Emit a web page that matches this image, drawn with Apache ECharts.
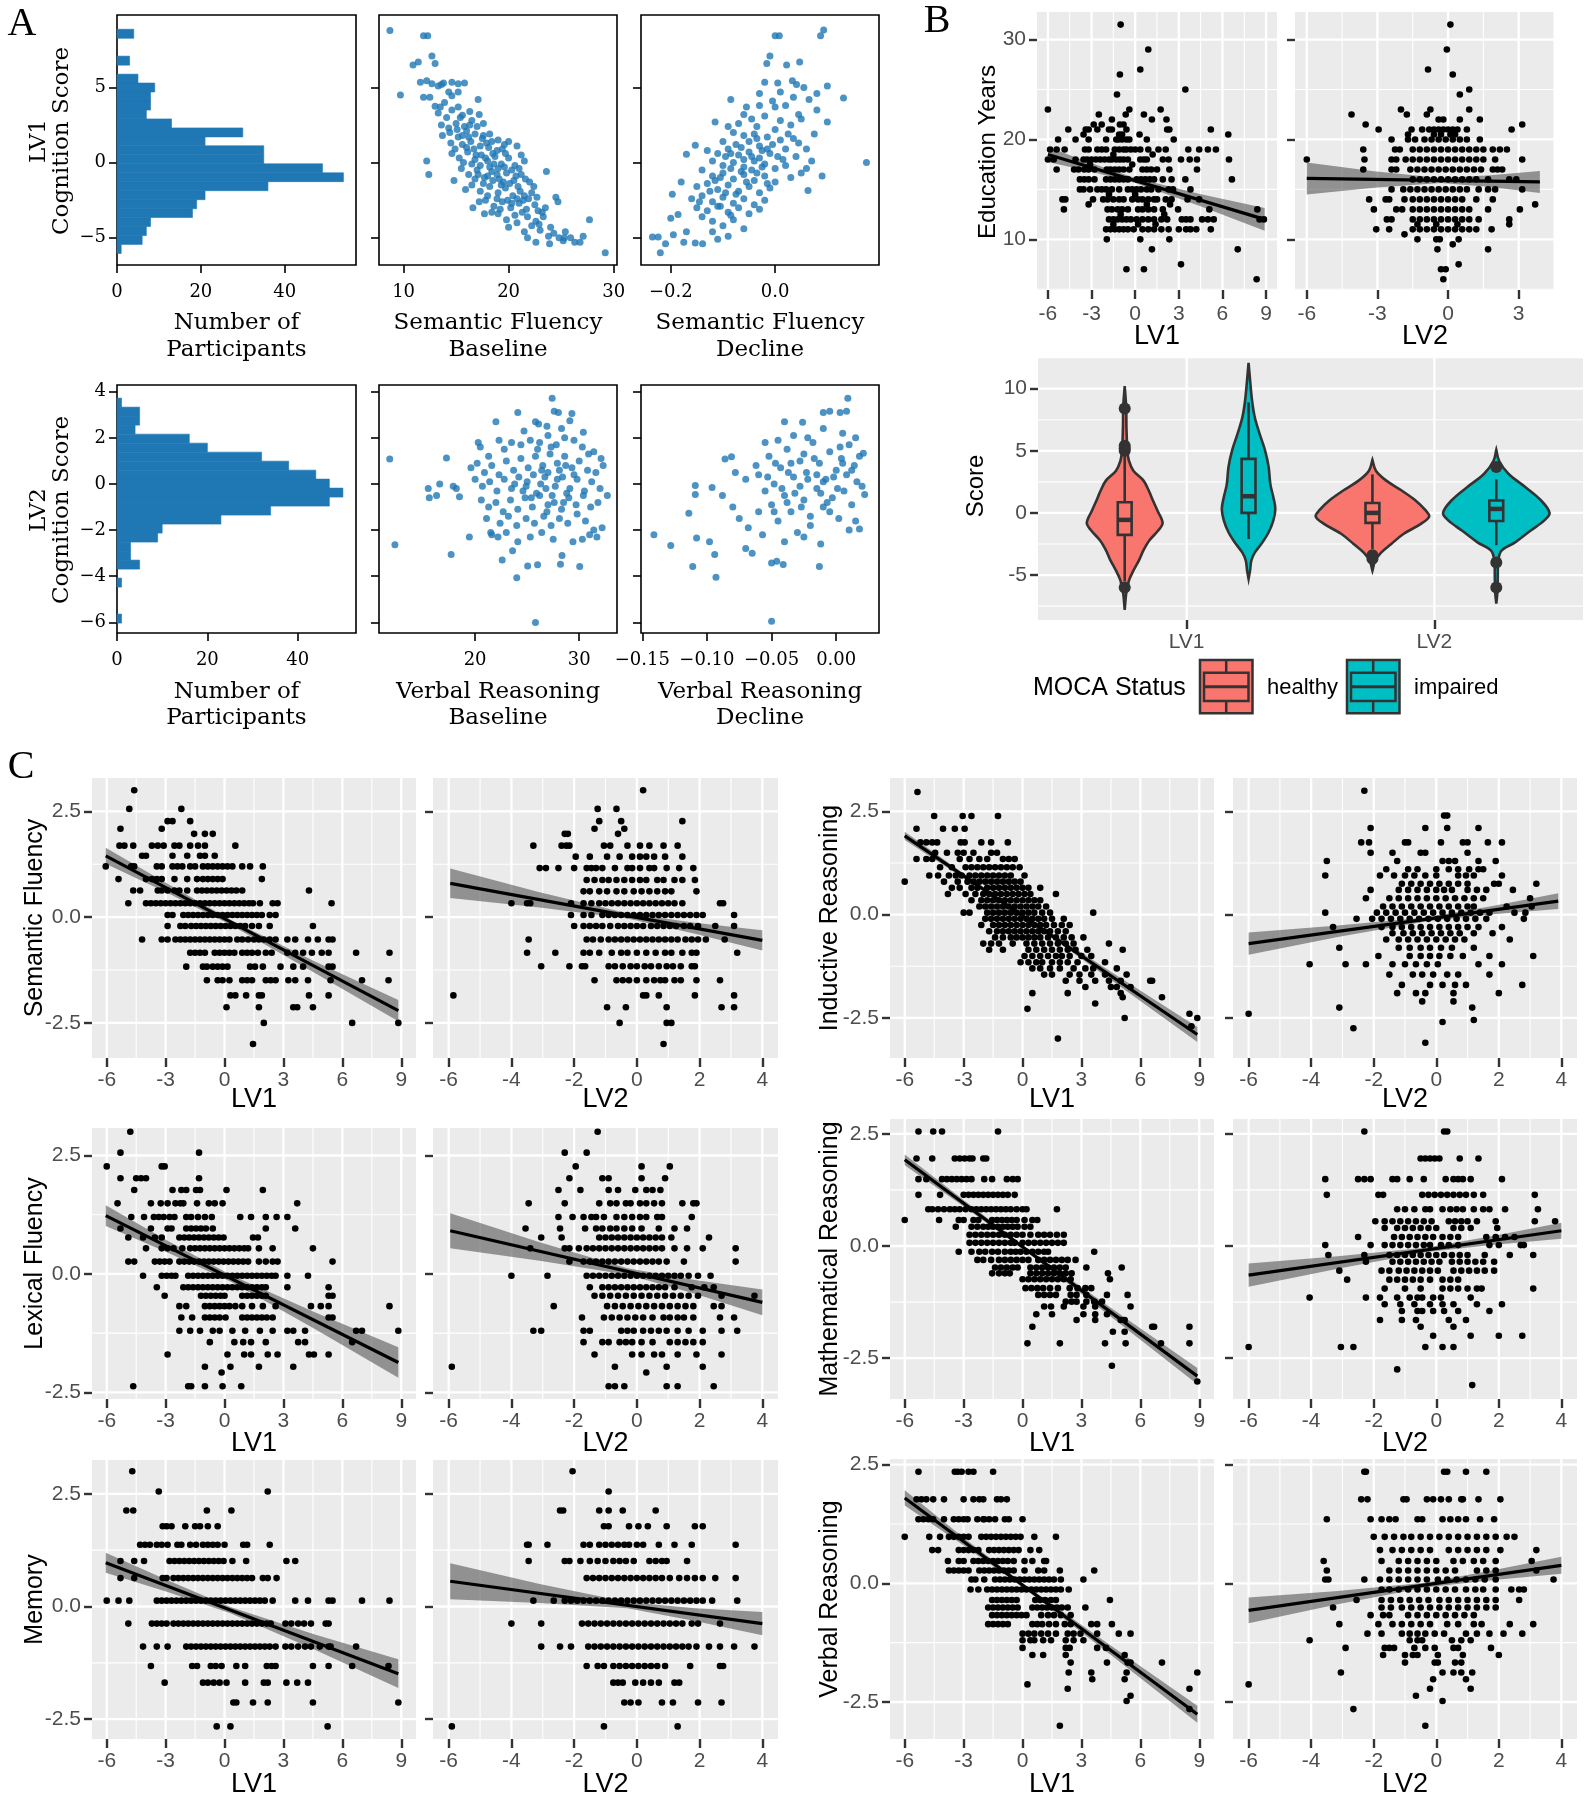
<!DOCTYPE html>
<html><head><meta charset="utf-8">
<script src="https://cdn.jsdelivr.net/npm/echarts@6/dist/echarts.min.js"></script>
<style>html,body{margin:0;padding:0;background:#fff}#c{width:1590px;height:1800px}</style>
</head><body><div id="c"></div>
<script>
// ================= DATA =================
// Panel A: histograms (bin edges, counts)
const histLV1Edges = [-6.05,-5.45,-4.86,-4.26,-3.66,-3.07,-2.47,-1.87,-1.27,-0.68,-0.08,0.52,1.12,1.71,2.31,2.91,3.50,4.10,4.70,5.30,5.89,6.49,7.09,7.68,8.28,8.88];
const histLV1Counts = [1,6,7,8,18,19,21,36,54,49,35,35,21,30,13,7,8,8,9,5,0,3,0,0,4];
const histLV2Edges = [-6.03,-5.64,-5.25,-4.86,-4.47,-4.08,-3.69,-3.30,-2.91,-2.52,-2.13,-1.74,-1.35,-0.96,-0.57,-0.18,0.21,0.60,0.99,1.38,1.77,2.16,2.55,2.94,3.33,3.72];
const histLV2Counts = [1,0,0,0,1,0,5,3,3,9,10,23,34,47,50,47,44,38,32,20,16,4,5,5,1];

// Panel A scatter: [x, score]
const sfBaseline = [[8.7,8.8],[11.9,8.45],[12.3,8.45],[12.7,7.1],[10.9,6.5],[11.4,6.7],[13.0,6.6],[9.7,4.5],[11.6,5.35],[12.2,5.45],[12.7,5.25],[13.3,5.1],[13.8,5.3],[14.6,5.35],[15.2,5.25],[15.8,5.3],[11.9,4.35],[12.5,4.35],[14.6,4.45],[15.2,4.7],[17.1,4.2],[13.0,3.75],[13.5,3.7],[14.6,3.5],[15.2,3.7],[15.6,3.15],[14.1,3.0],[15.4,3.0],[16.3,3.4],[17.2,3.2],[13.6,2.5],[14.3,2.3],[15.0,2.6],[15.8,2.4],[16.5,2.8],[17.6,2.6],[13.7,1.8],[14.4,2.0],[15.2,1.7],[16.0,2.1],[16.8,1.9],[17.5,1.6],[18.2,1.9],[19.0,1.5],[19.6,1.2],[14.5,1.3],[15.6,1.2],[16.4,1.4],[17.3,1.1],[18.1,1.0],[18.9,0.8],[20.0,1.4],[20.8,1.1],[21.2,0.5],[12.2,0.1],[12.4,-0.8],[14.6,0.6],[15.3,0.3],[16.1,0.7],[16.8,0.2],[17.4,0.5],[18.0,0.1],[18.7,0.4],[19.3,-0.1],[20.0,0.3],[20.6,-0.2],[21.5,0.1],[15.5,-0.4],[16.2,-0.8],[17.0,-0.5],[17.7,-1.0],[18.4,-0.6],[19.1,-1.1],[19.8,-0.7],[20.5,-1.2],[21.2,-0.8],[22.0,-1.3],[23.6,-0.6],[14.8,-1.2],[16.5,-1.5],[17.3,-1.9],[18.2,-1.6],[19.0,-2.0],[19.7,-1.7],[20.4,-2.2],[21.1,-1.9],[21.9,-2.4],[22.4,-1.6],[17.8,-2.5],[18.6,-2.9],[19.4,-2.6],[20.2,-3.0],[21.0,-2.7],[21.7,-3.1],[22.5,-2.8],[23.2,-3.3],[24.5,-2.3],[24.7,-2.6],[16.6,-3.0],[17.7,-3.4],[19.0,-3.4],[20.6,-3.5],[21.8,-3.6],[22.6,-3.9],[23.3,-3.6],[20.0,-4.3],[21.5,-4.6],[22.2,-4.2],[23.0,-4.5],[23.8,-4.9],[24.3,-4.7],[22.6,-5.3],[25.4,-4.6],[25.9,-5.0],[26.3,-5.3],[26.8,-5.3],[27.1,-4.9],[27.7,-3.8],[25.2,-5.2],[29.2,-6.0],[16.0,1.0],[16.7,0.9],[17.9,1.3],[18.5,0.6],[19.4,0.9],[15.7,0.0],[16.5,-0.1],[17.3,-0.2],[18.2,-0.3],[19.0,-0.4],[19.7,0.6],[20.3,-0.5],[21.0,-0.4],[16.8,-1.1],[17.6,-1.4],[18.5,-1.2],[19.3,-1.5],[20.1,-1.4],[20.9,-1.6],[21.6,-1.1],[18.0,-2.2],[18.9,-2.4],[19.9,-2.5],[20.8,-2.4],[21.5,-2.2],[22.2,-2.0],[17.2,-2.6],[15.9,-1.8],[16.3,2.5],[17.0,2.4],[15.6,1.8],[14.9,0.9],[22.8,-3.2],[21.3,-3.3],[19.8,-3.8],[18.4,-3.3],[20.8,-4.0],[22.9,-4.1],[24.0,-4.3],[24.8,-5.0],[23.9,-5.4],[21.8,-5.0],[25.3,-5.0],[13.3,3.3],[13.9,4.0],[14.3,4.7],[13.6,5.2],[16.9,0.5],[17.8,0.3],[18.6,-0.1],[19.6,-0.3],[17.1,-0.8],[18.0,-0.9],[18.9,-0.8],[19.5,-1.3],[20.7,-0.9],[17.6,1.8],[18.4,1.4],[16.2,1.7],[15.1,2.2],[20.3,-2.7],[19.2,-3.1],[21.4,-2.5],[22.7,-2.3],[23.5,-3.0]];
const sfDecline = [[0.093,8.83],[0.087,8.45],[0.0,8.45],[0.008,8.45],[-0.01,7.1],[0.047,6.7],[-0.016,6.6],[0.022,6.5],[-0.085,4.2],[0.08,4.6],[0.131,4.3],[-0.02,5.35],[0.005,5.3],[0.033,5.45],[0.041,5.2],[0.055,5.0],[-0.03,4.6],[0.01,4.7],[0.035,4.35],[-0.055,3.7],[-0.03,3.8],[0.0,3.7],[0.02,3.8],[0.045,3.2],[-0.06,3.2],[-0.045,2.9],[-0.02,3.1],[0.01,2.8],[-0.115,2.7],[-0.09,2.4],[-0.07,2.6],[-0.035,2.4],[0.0,2.2],[0.03,2.5],[0.035,1.6],[-0.08,2.0],[-0.06,1.8],[-0.04,1.9],[-0.015,1.7],[0.01,1.5],[-0.1,1.4],[-0.075,1.2],[-0.05,1.4],[-0.03,1.1],[-0.005,1.2],[0.02,0.9],[-0.153,1.15],[-0.13,0.8],[-0.11,0.6],[-0.09,0.9],[-0.07,0.5],[-0.05,0.7],[-0.03,0.3],[-0.01,0.6],[0.015,0.2],[0.04,0.4],[-0.17,0.55],[-0.12,0.1],[-0.1,-0.2],[-0.08,0.0],[-0.06,-0.3],[-0.04,0.1],[-0.02,-0.1],[0.0,-0.4],[0.02,-0.2],[0.06,-0.4],[0.175,0.0],[0.09,-0.9],[0.063,-1.85],[-0.14,-0.5],[-0.12,-0.9],[-0.1,-0.7],[-0.08,-1.1],[-0.06,-0.8],[-0.04,-1.2],[-0.02,-0.9],[0.0,-1.3],[0.03,-1.0],[-0.18,-1.3],[-0.15,-1.6],[-0.13,-1.4],[-0.11,-1.8],[-0.09,-1.5],[-0.07,-1.9],[-0.05,-1.6],[-0.03,-2.0],[-0.01,-1.7],[-0.197,-2.1],[-0.16,-2.4],[-0.14,-2.2],[-0.12,-2.6],[-0.1,-2.3],[-0.08,-2.7],[-0.06,-2.4],[-0.04,-2.8],[-0.02,-2.5],[-0.15,-3.0],[-0.13,-3.2],[-0.11,-2.9],[-0.09,-3.3],[-0.07,-3.0],[-0.05,-3.4],[-0.03,-3.1],[-0.2,-3.7],[-0.186,-3.45],[-0.14,-3.6],[-0.12,-3.9],[-0.1,-4.2],[-0.08,-3.8],[-0.06,-4.4],[-0.235,-4.95],[-0.224,-4.95],[-0.21,-5.4],[-0.22,-6.0],[-0.195,-4.8],[-0.175,-5.3],[-0.153,-5.35],[-0.139,-5.4],[-0.17,-4.6],[-0.12,-4.6],[-0.09,-4.9],[-0.11,-5.1],[-0.06,0.2],[-0.045,-0.5],[-0.025,0.8],[-0.085,-0.4],[-0.065,1.0],[-0.035,-0.7],[-0.095,0.4],[-0.015,-1.4],[0.05,-0.7],[0.07,0.1],[-0.055,-1.3],[-0.075,-2.1],[-0.095,-2.0],[-0.115,-1.2],[0.06,0.9],[0.045,1.3],[0.075,1.9],[0.1,2.7],[0.08,3.5],[0.065,4.2],[0.1,5.1],[-0.005,4.1],[-0.045,0.4],[-0.025,-0.3],[-0.065,-0.6],[-0.085,0.6],[-0.105,-1.0],[-0.035,1.6],[-0.015,0.9],[0.005,0.4],[-0.125,-1.9],[-0.145,-2.6],[-0.105,-2.9],[-0.085,-3.5],[0.025,1.9],[0.05,2.9]];
const vrBaseline = [[11.8,1.08],[12.3,-2.63],[17.25,1.13],[17.7,-3.06],[15.5,-0.2],[15.6,-0.6],[16.3,-0.5],[16.6,0.0],[17.9,-0.1],[18.2,-0.2],[18.5,-0.55],[19.45,-2.3],[21.5,-2.1],[21.6,-2.2],[22.6,-3.3],[23.6,-2.9],[24.1,-2.5],[24.0,-4.07],[25.05,-3.56],[26.0,-3.5],[25.8,-6.0],[28.2,-3.48],[30.05,-3.58],[28.35,-3.1],[27.4,3.72],[27.6,3.15],[28.0,3.1],[29.3,3.06],[24.1,3.1],[22.0,2.7],[25.8,2.7],[26.1,2.6],[29.1,2.74],[30.4,2.24],[20.3,1.8],[20.5,1.6],[21.3,1.2],[22.3,1.9],[22.8,1.5],[23.5,1.8],[24.4,1.7],[25.3,1.9],[26.2,1.8],[27.0,2.1],[27.8,1.7],[28.6,2.0],[29.5,1.9],[30.3,1.6],[31.4,1.4],[32.1,1.1],[19.6,0.7],[20.2,0.9],[20.9,0.5],[21.6,0.8],[22.3,0.4],[23.0,1.0],[23.7,0.6],[24.4,1.1],[25.1,0.7],[25.8,1.2],[26.5,0.8],[27.2,1.3],[27.9,0.9],[28.6,1.2],[29.3,0.7],[30.0,1.0],[30.8,0.6],[31.6,0.5],[32.3,0.8],[20.0,0.2],[20.7,-0.1],[21.4,0.1],[22.1,-0.3],[22.8,0.2],[23.5,-0.2],[24.2,0.3],[24.9,-0.1],[25.6,0.4],[26.3,0.0],[27.0,0.5],[27.7,-0.1],[28.4,0.3],[29.1,-0.2],[29.8,0.2],[30.5,-0.3],[31.2,0.1],[32.0,-0.2],[32.7,-0.5],[20.6,-0.7],[21.3,-1.0],[22.0,-0.8],[22.7,-1.2],[23.4,-0.7],[24.1,-1.1],[24.8,-0.6],[25.5,-1.0],[26.2,-0.5],[26.9,-1.2],[27.6,-0.8],[28.3,-1.1],[29.0,-0.6],[29.7,-0.9],[30.4,-0.5],[31.1,-1.0],[31.8,-0.8],[21.1,-1.5],[22.4,-1.7],[23.2,-1.4],[24.0,-1.8],[24.9,-1.5],[25.7,-1.7],[26.6,-1.4],[27.3,-1.8],[28.1,-1.5],[28.9,-1.7],[29.8,-1.3],[30.6,-1.6],[31.4,-2.0],[32.2,-1.9],[31.7,-2.3],[22.2,-2.3],[23.0,-2.1],[25.3,-2.3],[26.4,-2.1],[27.5,-2.4],[29.4,-2.5],[30.3,-2.4],[31.0,-2.2],[25.0,0.1],[25.9,-0.4],[26.7,0.3],[27.4,-0.5],[28.1,0.6],[28.8,-0.4],[26.0,1.5],[27.3,1.6],[24.6,-0.3],[23.8,0.0],[26.8,-0.2],[27.9,0.2],[28.7,0.8],[26.4,0.6],[25.4,-0.6],[28.5,-0.8],[27.0,-0.9],[29.5,0.4],[30.9,1.3],[24.7,2.3],[26.9,2.5],[28.3,2.4]];
const vrDecline = [[-0.141,-2.2],[-0.128,-2.67],[-0.111,-3.58],[-0.108,-2.34],[-0.098,-2.5],[-0.094,-3.06],[-0.093,-4.04],[-0.05,-5.95],[-0.05,-3.43],[-0.046,-3.35],[-0.041,-3.49],[-0.013,-3.58],[-0.114,-1.27],[-0.109,-0.07],[-0.109,-0.46],[-0.096,-0.15],[0.009,3.72],[0.003,3.1],[0.008,3.15],[-0.01,3.1],[-0.005,3.15],[-0.04,2.7],[-0.026,2.67],[-0.055,1.8],[-0.086,1.08],[-0.081,1.18],[0.021,1.33],[0.022,-0.46],[0.018,-1.95],[0.01,-2.0],[-0.01,2.4],[0.005,2.2],[0.015,2.0],[-0.078,0.5],[-0.07,0.2],[-0.088,-0.5],[-0.08,-1.0],[-0.075,-1.5],[-0.068,-1.9],[-0.07,-2.8],[-0.065,-3.0],[-0.06,-1.2],[-0.062,0.8],[-0.06,0.4],[-0.055,-0.3],[-0.052,1.2],[-0.05,-0.9],[-0.048,0.0],[-0.045,-1.6],[-0.043,0.7],[-0.04,-0.5],[-0.038,1.5],[-0.035,-1.2],[-0.033,0.3],[-0.03,-2.1],[-0.028,1.0],[-0.025,-0.7],[-0.023,0.5],[-0.02,-1.4],[-0.018,1.8],[-0.015,-0.2],[-0.013,0.9],[-0.01,-1.0],[-0.008,0.2],[-0.005,1.4],[-0.003,-0.6],[0.0,0.6],[0.002,-1.5],[0.004,1.1],[0.006,-0.3],[0.008,0.4],[0.01,1.7],[0.012,-0.9],[0.014,0.8],[0.016,0.1],[0.018,1.2],[0.02,-0.1],[0.015,-1.6],[-0.033,2.1],[-0.022,2.0],[-0.045,1.9],[-0.057,-2.2],[-0.04,-2.5],[-0.025,-2.3],[-0.012,-2.6],[-0.02,-1.8],[-0.035,0.9],[-0.028,-0.1],[-0.015,0.4],[-0.005,-1.2],[0.005,0.9],[-0.048,-1.2],[-0.053,0.3],[-0.038,-0.8],[-0.025,1.3],[-0.01,0.1],[0.001,-0.2],[-0.042,-0.2],[-0.032,-0.4],[-0.022,0.2],[-0.012,-0.4],[-0.002,0.3],[-0.037,0.5],[-0.017,1.1],[-0.007,-0.8],[0.003,1.6],[-0.027,-1.0],[-0.047,0.9],[0.012,0.6]];

// Panel B: education years rows [years, [LV values]]
const eduLV1 = [[31.5,[-1.0]],[29,[0.9]],[27,[0.35]],[26.5,[-1.05]],[25,[3.45]],[24.5,[-1.25]],[23,[-6.0,-0.4,1.75]],[22.5,[-2.5,-0.65,0.6]],[22,[1.15,2.15,-1.6]],[21.5,[-2.85,-2.3,-1.05,-0.8]],[21,[-4.6,-3.4,-3.2,-2.6,-1.8,-1.6,-0.6,2.2,2.35,5.2]],[20.5,[-3.55,-1.1,-0.9,0.3,6.4]],[20,[-5.3,-4.1,-3.2,-2.0,-1.3,-1.15,-0.9,-0.6,-0.4,0.8,2.65]],[19,[-5.85,-5.4,-4.85,-3.45,-3.2,-2.6,-2.3,-2.0,-1.4,-1.1,-0.8,-0.6,-0.3,0.0,0.35,0.9,1.6,2.1,3.65,4.4,5.0,5.55]],[18.5,[-1.5,1.2]],[18,[-6.0,-5.6,-4.1,-3.55,-3.3,-3.0,-2.7,-2.4,-2.1,-1.8,-1.6,-1.3,-1.05,-0.8,-0.5,0.35,0.6,0.8,1.9,2.3,3.15,3.75,4.25,6.45]],[17.5,[-3.1,-0.2]],[17,[-5.4,-4.2,-3.9,-3.5,-3.2,-2.8,-1.95,-1.7,-1.4,-1.1,-0.8,-0.4,0.5,0.8,1.1,1.5,2.35,4.25]],[16,[-3.8,-3.5,-3.2,-2.8,-2.0,-1.7,-1.4,-1.1,-0.8,-0.5,0.1,0.4,0.7,1.0,1.3,1.9,2.5,3.45,6.65]],[15,[-3.8,-3.55,-3.1,-2.6,-2.3,-2.0,-1.6,-1.1,-0.5,-0.2,0.1,0.4,0.8,1.1,1.6,2.3,2.6,3.8]],[14.5,[-1.8,0.0]],[14,[-5.0,-4.8,-2.9,-2.2,-1.9,-1.5,-1.1,-0.8,-0.2,0.2,0.5,0.9,1.3,1.5,2.1,2.5,3.6,4.4]],[13.5,[-3.2,0.8,2.4]],[13,[-4.9,-1.9,-1.6,-1.2,-0.9,-0.5,0.2,0.5,0.9,1.3,1.9,2.95,5.1,8.4]],[12.5,[-1.0,2.0]],[12,[-1.8,-1.5,-1.2,-0.9,-0.6,-0.3,0.1,0.5,0.9,1.3,1.8,2.2,3.2,3.5,3.8,4.6,5.0,5.4,8.55,8.85]],[11.5,[-1.5,0.2,1.4]],[11,[-2.0,-1.7,-1.4,-1.1,-0.8,-0.5,-0.1,0.5,0.9,1.3,1.8,2.3,3.0,3.5,3.8,4.2,5.2]],[10,[-1.95,0.35,2.35]],[9,[1.15,7.05]],[7.5,[3.15]],[7,[-0.6,0.6]],[6,[8.35]]];
const eduLV2 = [[31.5,[0.1]],[29,[-0.05]],[27,[-0.85]],[26.5,[0.2]],[25,[0.9]],[24.5,[0.5]],[23,[-2.0,-0.75,0.9]],[22.5,[-4.1,-1.75,-0.9]],[22,[-0.4,-0.2,0.5,1.35]],[21.5,[-3.5,3.15]],[21,[-2.95,-1.55,-1.1,-0.8,-0.6,-0.4,-0.2,0.0,0.2,0.4,0.8,2.7]],[20.5,[-1.7,-0.6,-0.3,0.1,0.3]],[20,[-2.4,-1.7,-1.4,-1.0,-0.7,-0.4,-0.1,0.2,0.5,0.8,1.35]],[19,[-3.6,-2.25,-2.05,-1.5,-1.2,-0.9,-0.6,-0.3,0.0,0.3,0.6,0.9,1.2,1.5,1.9,2.2,2.5]],[18,[-6.0,-3.55,-2.4,-2.2,-1.8,-1.5,-1.2,-0.9,-0.6,-0.3,0.0,0.3,0.6,0.9,1.2,1.5,2.0,3.15]],[17,[-3.6,-2.4,-2.2,-1.6,-1.3,-1.0,-0.7,-0.4,-0.1,0.2,0.5,0.8,1.1,1.4,1.9,2.1,2.3]],[16,[-1.5,-1.2,-0.9,-0.6,-0.3,0.0,0.3,0.6,0.9,1.2,1.7,2.6,2.9]],[15,[-2.4,-1.9,-1.6,-1.3,-1.0,-0.7,-0.4,-0.1,0.2,0.5,0.8,1.3,1.7,2.0,3.15]],[14,[-3.35,-2.65,-2.5,-1.85,-1.5,-1.2,-0.9,-0.6,-0.3,0.0,0.3,0.6,1.2,1.9]],[13.5,[3.7]],[13,[-3.15,-2.2,-1.95,-1.5,-1.2,-0.9,-0.6,-0.3,0.0,0.3,0.6,0.9,1.7,3.05]],[12,[-2.6,-2.4,-1.5,-1.2,-0.9,-0.6,-0.3,0.0,0.3,0.6,0.9,1.3,2.6]],[11.5,[-1.3,-0.5,0.4,2.6]],[11,[-3.05,-2.5,-1.5,-1.2,-0.9,-0.6,-0.3,0.0,0.3,0.6,0.9,1.2,1.85]],[10.5,[-1.85]],[10,[-1.3,-0.5,-0.35,0.45]],[9.5,[0.2]],[9,[-0.45,1.7]],[7.5,[0.45]],[7,[-0.3,-0.1]],[6,[-0.2]]];
const eduLV1Fit = [[-6.0,18.5],[8.9,12.0]];
const eduLV1Band = [[-6,17.75,19.25],[-3,16.76,17.62],[0,15.63,16.13],[4.45,13.33,14.55],[8.9,10.85,13.15]];
const eduLV2Fit = [[-6.0,16.1],[3.9,15.75]];
const eduLV2Band = [[-6,14.5,17.7],[-3.15,15.17,16.83],[-0.3,15.65,16.15],[1.8,15.23,16.41],[3.9,14.65,16.85]];

// Panel B violins: profiles [score, half-width], box stats [lowWhisker,q1,median,q3,highWhisker], outliers
const violinGroups = ['LV1','LV1','LV2','LV2'];
const violinStatus = ['healthy','impaired','healthy','impaired'];
const vioLV1Healthy = [[10.2,0],[8.5,0.006],[6.9,0.007],[5.0,0.011],[4.2,0.017],[3.4,0.035],[2.6,0.076],[1.8,0.097],[1.0,0.114],[0.2,0.132],[-0.8,0.153],[-1.4,0.136],[-2.2,0.1],[-3.0,0.076],[-3.8,0.058],[-4.65,0.035],[-5.45,0.017],[-6.5,0.006],[-7.8,0]];
const vioLV1Impaired = [[12.07,0],[10.7,0.006],[9.05,0.014],[7.7,0.025],[6.4,0.044],[5.0,0.067],[3.7,0.081],[2.3,0.088],[1.26,0.1],[0.32,0.108],[-0.6,0.1],[-1.56,0.081],[-2.37,0.056],[-3.2,0.025],[-3.85,0.011],[-4.65,0.006],[-5.3,0]];
const vioLV2Healthy = [[4.27,0],[3.4,0.014],[2.6,0.056],[1.8,0.118],[1.0,0.174],[0.2,0.215],[-0.3,0.229],[-0.9,0.194],[-1.7,0.125],[-2.5,0.076],[-3.2,0.035],[-3.85,0.011],[-4.65,0]];
const vioLV2Impaired = [[5.08,0],[4.2,0.011],[3.15,0.049],[2.07,0.118],[1.0,0.181],[0.0,0.215],[-0.6,0.194],[-1.42,0.139],[-2.37,0.076],[-3.04,0.021],[-3.85,0.008],[-5.2,0.006],[-6.5,0.004],[-7.3,0]];
const boxStats = [[-5.5,-1.77,-0.56,0.86,4.6],[-2.1,0.0,1.34,4.35,8.9],[-2.9,-0.8,0.0,0.8,3.1],[-2.6,-0.65,0.32,1.0,2.7]];
const boxOutliers = [[8.4,5.0,5.2,5.4,-6.0],[],[-3.4,-3.7],[3.7,-4.0,-6.0]];

// Panel C: rows [score level, [LV values]]
const sfLV1 = [[3.0,[-4.6]],[2.56,[-4.85,-2.2]],[2.27,[-2.9,-2.65,-1.75]],[2.09,[-5.3,-3.2]],[1.97,[-1.55,-1.0,-0.6]],[1.69,[-5.35,-5.1,-4.65,-3.7,-3.4,-3.1,-2.55,-2.3,-1.75,-1.35,-1.0,0.55]],[1.45,[-4.2,-4.0,-2.65,-1.9,-1.25,-1.0,-0.5]],[1.2,[-6.05,-4.75,-4.6,-3.45,-3.2,-2.65,-2.4,-2.15,-1.75,-1.5,-1.1,-0.85,-0.6,-0.35,-0.1,0.15,0.4,0.9,1.3,1.95]],[0.9,[-5.4,-4.0,-3.7,-3.45,-3.2,-2.55,-1.9,-1.4,-1.1,-0.85,-0.6,-0.35,-0.1,1.9]],[0.63,[-4.65,-4.3,-3.4,-3.2,-2.9,-2.55,-2.3,-1.9,-1.4,-1.15,-0.9,-0.65,-0.4,-0.15,0.1,0.35,0.6,0.9,4.3]],[0.33,[-4.9,-4.0,-3.75,-3.5,-3.25,-3.0,-2.75,-2.5,-2.25,-2.0,-1.75,-1.5,-1.25,-1.0,-0.75,-0.5,-0.25,0,0.25,0.5,0.75,1.0,1.25,1.45,1.8,2.45,2.7,5.45]],[0.05,[-2.9,-2.65,-2.1,-1.85,-1.6,-1.35,-1.1,-0.85,-0.6,-0.35,-0.1,0.15,0.4,0.65,0.9,1.15,1.4,1.65,1.9,2.3,2.6]],[-0.21,[-2.9,-2.25,-2.0,-1.7,-1.45,-1.2,-0.95,-0.7,-0.45,-0.2,0.05,0.3,0.55,0.8,1.05,1.4,1.75,2.3,4.5]],[-0.53,[-4.2,-3.2,-2.9,-2.5,-2.25,-2.0,-1.75,-1.5,-1.25,-1.0,-0.75,-0.5,-0.25,0,0.25,0.65,0.9,1.2,1.5,1.75,2.0,2.3,2.6,3.2,3.6,4.25,4.75,5.3,5.5]],[-0.84,[-1.75,-1.5,-1.25,-1.0,-0.5,-0.25,0,0.25,0.5,0.9,1.15,1.4,1.7,2.1,2.4,3.2,3.6,4.0,4.45,4.95,5.3,6.7,8.4]],[-1.17,[-1.95,-1.1,-0.9,-0.6,-0.35,-0.1,0.15,1.3,1.55,1.95,2.85,3.5,4.0,5.3,5.5]],[-1.49,[-0.9,-0.35,-0.1,0.25,0.9,1.15,1.4,2.1,2.35,2.6,3.25,3.6,4.25,5.4,7.0,8.35]],[-1.85,[0.3,0.55,1.1,1.75,1.9,4.3,5.3]],[-2.13,[0.1,1.75,3.5,3.7,4.5]],[-2.5,[2.0,6.5,8.85]],[-3.0,[1.45]]];
const sfLV2 = [[3.0,[0.2]],[2.56,[-1.25,-0.65]],[2.27,[-1.2,-0.5,1.45]],[2.09,[-1.35,-0.4]],[1.97,[-2.3,-2.2,-0.6]],[1.69,[-3.3,-2.4,-2.25,-2.15,-1.05,-0.85,-0.3,0.1,0.4,0.85,1.3]],[1.43,[-1.95,-1.5,-0.95,-0.55,-0.15,0.1,0.3,0.55,0.9,1.45]],[1.16,[-3.1,-2.9,-2.5,-2.0,-1.6,-1.45,-1.3,-1.1,-0.7,-0.3,-0.15,0.1,0.4,0.55,0.95,1.35,1.8]],[0.88,[-1.6,-1.35,-1.1,-0.9,-0.65,-0.4,-0.15,0.1,0.3,0.65,0.85,1.2,1.45,1.85]],[0.61,[-1.7,-1.5,-1.2,-0.95,-0.65,-0.4,-0.1,0.15,0.4,0.65,0.9,1.1,1.9]],[0.33,[-4.0,-3.5,-3.4,-2.1,-1.7,-1.45,-1.2,-1.0,-0.8,-0.6,-0.4,-0.2,0.0,0.2,0.4,0.6,0.8,1.0,1.2,1.45,2.65,2.75]],[0.05,[-2.1,-1.7,-1.45,-1.1,-0.9,-0.7,-0.5,-0.3,-0.1,0.1,0.3,0.5,0.7,0.9,1.1,1.3,1.5,1.7,1.9,2.1,3.1]],[-0.21,[-2.0,-1.7,-1.5,-1.3,-1.1,-0.85,-0.6,-0.4,-0.2,0.0,0.2,0.45,0.65,0.85,1.05,1.25,1.5,1.7,1.95,2.5,3.1]],[-0.53,[-3.45,-1.6,-1.4,-1.15,-0.9,-0.7,-0.5,-0.3,-0.1,0.1,0.3,0.5,0.7,0.9,1.1,1.3,1.55,1.75,1.95,2.2,2.8]],[-0.84,[-3.5,-2.6,-1.7,-1.5,-1.2,-0.8,-0.5,-0.3,0.0,0.3,0.6,0.9,1.1,1.45,1.75,1.9,3.2]],[-1.16,[-3.05,-2.15,-1.75,-1.65,-0.9,-0.7,-0.45,-0.2,0.0,0.25,0.45,0.7,0.95,1.15,1.4,1.75,1.85]],[-1.49,[-1.35,-0.65,-0.45,-0.25,0.0,0.3,0.55,0.75,0.9,1.2,1.4,1.9,2.65]],[-1.85,[-5.85,0.2,0.3,0.7,1.85,3.1]],[-2.13,[-0.95,-0.35,0.95,2.7,3.1]],[-2.5,[-0.55,0.95,1.1]],[-3.0,[0.85]]];
const lfLV1 = [[3.0,[-4.8]],[2.56,[-5.3,-1.3]],[2.27,[-6.0,-3.2,-3.05]],[2.02,[-5.3,-4.5,-4.25,-4.0,-1.3]],[1.77,[-4.6,-2.65,-2.2,-1.95,-1.45,-1.25,0.1,1.95]],[1.49,[-5.45,-3.75,-3.25,-2.9,-2.5,-2.25,-2.1,-1.4,-0.8,-0.5,-0.1,3.7]],[1.2,[-4.75,-4.1,-3.6,-3.35,-3.1,-2.8,-2.55,-1.95,-1.7,-1.35,-1.0,-0.65,0.8,1.35,2.1,2.65,3.2]],[0.96,[-5.3,-3.75,-2.9,-2.7,-1.95,-1.7,-1.45,-1.2,-0.95,-0.6,2.1,3.6]],[0.77,[-4.9,-4.15,-3.55,-3.2,-2.3,-2.05,-1.8,-1.55,-1.3,-1.05,-0.8,-0.55,-0.3,-0.05,1.45,1.7]],[0.54,[-4.0,-3.2,-2.9,-2.6,-2.15,-1.75,-1.5,-1.25,-1.0,-0.75,-0.5,-0.25,0.0,0.25,0.5,0.75,1.0,1.2,1.75,2.45,4.5]],[0.26,[-4.9,-4.6,-3.55,-3.3,-3.05,-2.8,-2.3,-2.05,-1.8,-1.55,-1.3,-1.05,-0.8,-0.55,-0.3,-0.05,0.2,0.45,0.7,0.95,1.2,1.75,2.1,2.45,2.7,5.5]],[-0.04,[-4.15,-3.2,-2.95,-2.7,-2.5,-1.85,-1.6,-1.35,-1.1,-0.85,-0.6,-0.35,-0.1,0.15,0.4,0.65,0.9,1.15,1.4,1.65,1.9,2.15,2.4,2.6,3.2,4.25]],[-0.28,[-3.45,-2.1,-1.85,-1.6,-1.35,-1.1,-0.85,-0.6,-0.35,-0.1,0.15,0.4,0.65,0.9,1.15,1.4,1.65,1.9,2.1,3.2,5.3]],[-0.46,[-3.05,-1.2,-0.95,-0.7,-0.45,-0.2,0.0,0.9,1.15,1.4,1.65,1.9,2.1,5.3,5.5]],[-0.68,[-2.3,-1.95,-1.0,-0.75,-0.5,-0.25,0.0,0.25,0.55,0.9,1.4,1.95,2.6,4.4,4.9,5.3,8.4]],[-0.92,[-2.2,-1.65,-1.0,-0.75,-0.5,-0.25,0.05,0.9,1.15,1.4,1.65,1.9,2.15,2.45,5.3,5.5]],[-1.2,[-2.3,-1.75,-1.25,-0.6,-0.25,0.4,1.05,1.8,2.45,3.2,3.5,4.1,6.7,7.0,8.85]],[-1.44,[-0.75,0.5,0.95,1.35,2.1,3.75,4.1,6.5]],[-1.7,[-2.9,0.15,1.0,1.35,2.2,2.7,4.3,4.55,5.3]],[-1.96,[-1.0,0.3,1.75,3.5]],[-2.08,[-0.15]],[-2.37,[-4.65,-1.85,-1.7,-1.0,-0.1,0.85]]];
const lfLV2 = [[3.0,[-1.25]],[2.56,[-2.3,-1.6]],[2.27,[-1.95,0.15,1.05]],[2.02,[-2.15,-1.1,-0.9,0.15,0.9]],[1.77,[-2.5,-1.8,-0.9,-0.6,-0.05,0.3,0.5,0.75]],[1.49,[-3.45,-2.3,-1.2,-0.85,-0.65,-0.35,-0.2,0.1,0.3,0.55,0.8,1.45,1.8,1.9]],[1.2,[-2.5,-2.05,-1.7,-1.45,-1.3,-1.05,-0.65,-0.4,-0.15,0.1,0.3,0.65,0.8,1.75]],[0.96,[-3.55,-2.45,-1.65,-1.3,-1.1,-0.85,-0.65,-0.4,-0.15,0.15,0.7,1.2,1.6]],[0.77,[-3.05,-2.4,-1.2,-1.0,-0.8,-0.6,-0.4,-0.2,0.0,0.2,0.4,0.6,0.8,1.1,2.3]],[0.54,[-3.4,-2.3,-2.15,-1.85,-1.6,-1.4,-1.2,-1.0,-0.8,-0.6,-0.4,-0.2,0.0,0.2,0.4,0.6,0.8,1.2,1.6,2.1,3.15]],[0.26,[-2.15,-1.7,-1.5,-1.3,-1.1,-0.9,-0.7,-0.5,-0.3,-0.1,0.1,0.3,0.5,0.7,0.95,1.5,3.15]],[-0.04,[-4.0,-2.85,-1.6,-1.4,-1.2,-1.0,-0.8,-0.6,-0.4,-0.2,0.0,0.2,0.4,0.6,0.8,1.0,1.2,1.4,1.65,1.95,2.35]],[-0.28,[-1.5,-1.1,-0.9,-0.7,-0.5,-0.3,-0.1,0.1,0.3,0.5,0.7,0.9,1.2,1.75,2.15,2.45]],[-0.46,[-1.35,-1.1,-0.85,-0.6,-0.35,-0.1,0.15,0.4,0.65,0.9,1.15,1.4,1.65,1.95,2.7,3.75]],[-0.68,[-2.65,-0.95,-0.7,-0.45,-0.2,0.05,0.3,0.55,0.8,1.05,1.3,1.55,1.8,2.45,2.7]],[-0.92,[-1.75,-1.05,-0.8,-0.55,-0.3,-0.05,0.2,0.5,0.85,1.05,1.3,1.5,1.8,2.65,3.1]],[-1.2,[-3.3,-3.05,-1.7,-1.5,-0.5,-0.3,-0.1,0.2,0.45,0.7,0.95,1.3,1.65,2.1,2.7,3.2]],[-1.44,[-1.7,-1.1,-0.9,-0.55,-0.35,-0.15,0.15,0.5,1.05,1.3,1.55,1.8,2.1]],[-1.7,[-1.35,-0.15,0.15,0.55,0.8,1.3,1.9,2.7]],[-1.96,[-5.9,-0.7,0.95,2.1]],[-2.08,[0.3]],[-2.37,[-0.9,-0.7,-0.4,0.95,1.3,2.45]]];
const mmLV1 = [[3.0,[-4.7]],[2.55,[-3.35,2.2]],[2.13,[-5.0,-4.65,-0.9,0.35]],[1.78,[-3.15,-2.95,-2.7,-2.0,-1.5,-1.25,-0.85,-0.35]],[1.37,[-4.3,-4.05,-3.8,-3.45,-3.2,-2.9,-2.4,-2.2,-1.75,-1.45,-1.1,-0.85,-0.6,-0.35,0.0,0.95,1.15,2.3]],[1.01,[-5.3,-4.6,-4.1,-2.8,-2.55,-2.3,-2.05,-1.8,-1.55,-1.3,-1.05,-0.8,-0.55,-0.3,-0.05,0.4,1.1,3.15,3.6]],[0.63,[-5.3,-4.6,-3.15,-2.95,-2.6,-2.35,-2.1,-1.85,-1.6,-1.35,-1.1,-0.85,-0.6,-0.35,-0.1,0.15,0.4,0.65,0.9,1.15,1.4,1.95,2.2,2.65]],[0.13,[-6.0,-5.4,-4.85,-3.45,-3.2,-2.95,-2.7,-2.45,-2.2,-1.95,-1.7,-1.45,-1.2,-0.95,-0.7,-0.45,-0.2,0.05,0.3,0.55,0.8,1.05,1.3,1.55,1.8,2.05,2.45,3.6,4.25,5.3,5.5,7.0,8.4]],[-0.38,[-4.9,-3.7,-3.45,-3.2,-2.95,-2.6,-2.35,-2.1,-1.85,-1.6,-1.35,-1.1,-0.85,-0.6,-0.35,-0.1,0.15,0.4,0.65,0.9,1.15,1.4,1.65,1.9,2.15,2.35,3.1,3.4,3.75,4.05,4.4,5.15,5.3]],[-0.89,[-4.15,-3.45,-2.9,-1.95,-1.7,-1.45,-1.2,-0.95,-0.7,-0.45,-0.2,0.05,0.3,0.55,0.8,1.05,1.3,1.55,1.8,2.05,2.3,2.6,3.1,3.4,3.75,4.1,4.4,4.85,5.3,5.4,6.7]],[-1.32,[-3.75,-1.65,-1.4,-0.7,-0.45,-0.15,0.6,1.05,2.15,2.4,2.6,4.5,5.3,6.5,8.35]],[-1.69,[-3.05,-1.1,-0.85,-0.55,-0.25,0.1,1.05,2.0,2.2,3.15,3.7,4.25]],[-2.13,[0.45,0.6,1.45,2.2,4.5,8.85]],[-2.66,[-0.4,0.3,5.25]]];
const mmLV2 = [[3.0,[-2.05]],[2.55,[-0.9]],[2.13,[-2.45,-2.35,-1.2,-0.9,-0.45,0.6]],[1.78,[-1.05,-0.9,-0.25,0.05,0.35,0.95,1.85,2.1]],[1.37,[-3.5,-3.45,-2.85,-1.7,-1.5,-1.2,-1.0,-0.8,-0.6,-0.4,-0.25,0.0,0.2,0.7,1.2,1.75,3.15]],[1.01,[-3.45,-2.3,-2.15,-1.8,-1.5,-1.25,-1.0,-0.75,-0.55,-0.35,-0.1,0.4,0.6,0.8,0.95,1.6]],[0.63,[-1.6,-1.4,-1.2,-1.0,-0.8,-0.6,-0.4,-0.2,0.0,0.2,0.4,0.6,0.8,1.05,1.35,1.6,1.85,2.1,2.5,3.15]],[0.13,[-3.3,-2.65,-2.3,-2.1,-1.9,-1.7,-1.5,-1.3,-1.1,-0.9,-0.7,-0.5,-0.3,-0.1,0.1,0.3,0.5,0.7,0.9,1.1,1.3,1.5,1.7,1.9,2.1,2.4,3.2]],[-0.38,[-4.0,-3.05,-1.75,-1.55,-1.35,-1.15,-0.95,-0.75,-0.55,-0.35,-0.15,0.05,0.25,0.45,0.65,0.85,1.05,1.25,1.45,1.75,1.95,2.65]],[-0.89,[-3.05,-2.45,-2.1,-1.55,-1.35,-1.15,-0.95,-0.75,-0.55,-0.35,-0.15,0.05,0.25,0.45,0.65,0.85,1.05,1.25,1.45,1.65,1.9,2.3,2.65,3.1,3.75]],[-1.32,[-1.6,-1.25,-1.05,-0.75,-0.55,-0.35,-0.15,0.05,0.25,0.45,0.65,0.9,1.7,2.65,2.75]],[-1.69,[-0.75,-0.6,-0.45,-0.05,0.2,0.45,0.7,1.2,1.35]],[-2.13,[-0.4,-0.2,0.05,0.8,1.15,1.95,2.7]],[-2.66,[-5.9,-1.05,1.3]]];
const irLV1 = [[2.97,[-5.35]],[2.39,[-4.5,-3.05,-2.6,-1.25]],[2.08,[-5.4,-4.05,-3.45,-2.95]],[1.75,[-5.2,-4.9,-4.6,-4.35,-3.15,-2.95,-2.1,-1.6,-0.75]],[1.5,[-4.45,-3.85,-3.3,-3.0,-2.5,-1.6,-1.3]],[1.35,[-5.4,-4.9,-4.6,-3.2,-2.7,-2.2,-1.8,-1.0,-0.7,-0.4]],[1.15,[-4.2,-3.6,-2.9,-2.6,-2.3,-2.0,-1.7,-1.4,-1.1,-0.8,-0.5,-0.15]],[0.95,[-4.75,-4.3,-3.75,-3.4,-3.1,-2.7,-2.4,-2.1,-1.8,-1.5,-1.2,-0.9,-0.6,0.1]],[0.8,[-6.0,-4.0,-3.3,-2.8,-2.5,-2.2,-1.9,-1.6,-1.3,-1.0,-0.7,-0.4,-0.1]],[0.65,[-3.6,-3.2,-2.6,-2.3,-1.8,-1.5,-1.2,-0.9,-0.6,-0.3,0.0,0.3,0.9]],[0.5,[-3.8,-2.9,-2.4,-2.0,-1.7,-1.4,-1.1,-0.8,-0.5,-0.2,0.1,0.4,1.7]],[0.35,[-2.6,-2.1,-1.8,-1.5,-1.2,-0.9,-0.6,-0.3,0.0,0.3,0.6,0.9]],[0.2,[-2.2,-1.9,-1.6,-1.3,-1.0,-0.7,-0.4,-0.1,0.2,0.5,0.8,1.2]],[0.05,[-3.0,-2.7,-1.8,-1.5,-1.2,-0.9,-0.6,-0.3,0.0,0.3,0.6,1.0,1.4,3.6]],[-0.1,[-1.9,-1.6,-1.3,-1.0,-0.7,-0.4,-0.1,0.2,0.5,0.8,1.1,1.5,2.1]],[-0.25,[-2.1,-1.5,-1.2,-0.9,-0.6,-0.3,0.0,0.3,0.6,0.9,1.2,1.6,2.0,2.4]],[-0.4,[-1.7,-1.3,-1.0,-0.7,-0.4,-0.1,0.2,0.5,0.8,1.1,1.4,1.8,2.2]],[-0.55,[-1.4,-1.0,-0.6,-0.3,0.0,0.3,0.6,0.9,1.3,1.7,2.1,2.5,3.1]],[-0.7,[-2.0,-1.6,-1.2,-0.5,0.2,0.6,1.0,1.4,1.8,2.2,2.6,4.4]],[-0.85,[-1.7,-1.0,0.3,0.7,1.1,1.5,1.9,2.3,2.7,3.3,5.1]],[-1.0,[0.1,0.5,0.9,1.3,1.7,2.0,2.4,3.0,3.5]],[-1.15,[-0.1,0.3,0.7,1.0,1.5,1.9,2.3,2.8,4.2]],[-1.3,[0.5,0.9,1.4,1.9,2.6,3.2,3.6,4.8]],[-1.45,[1.1,1.5,2.4,2.9,3.5,4.2,5.3]],[-1.6,[2.2,2.9,3.7,4.4,5.0,6.5,6.6]],[-1.75,[3.2,4.5,4.8,5.5]],[-1.9,[0.5,2.3,5.0]],[-2.0,[5.1,7.1]],[-2.15,[3.7]],[-2.28,[0.25]],[-2.4,[8.5]],[-2.5,[5.2,8.9]],[-2.7,[8.6]],[-3.0,[1.8]]];
const irLV2 = [[3.0,[-2.3]],[2.4,[0.25,0.35]],[2.1,[-2.1,-0.35,0.35,1.35]],[1.75,[-2.4,-2.15,-1.0,-0.9,0.15,0.85,1.0,1.65,2.1]],[1.5,[-2.1,-1.4,-0.5,-0.35,1.0]],[1.3,[-3.5,-1.25,0.2,0.4,0.6,1.35,1.9]],[1.1,[-1.6,-0.9,-0.6,0.0,0.4,0.7,1.05,1.35,1.5]],[0.95,[-3.55,-1.8,-1.35,-1.0,-0.7,-0.35,0.0,0.7,0.95,1.2,2.1]],[0.75,[-1.1,-0.8,-0.5,-0.2,0.1,0.4,0.7,1.0,1.85,2.0,3.2]],[0.6,[-2.1,-1.2,-0.9,-0.6,-0.3,0.0,0.25,0.5,1.0,1.3,1.6,2.45]],[0.4,[-2.25,-1.5,-1.2,-0.9,-0.6,-0.3,0.0,0.3,0.6,0.9,1.2,1.5,3.0]],[0.2,[-1.7,-1.4,-1.1,-0.8,-0.5,-0.2,0.1,0.4,0.7,1.0,1.2,2.25,3.05]],[0.05,[-3.55,-1.9,-1.6,-1.3,-1.0,-0.7,-0.4,-0.1,0.2,0.5,0.8,1.1,1.4,1.7,2.5,2.85]],[-0.1,[-2.55,-2.05,-1.75,-1.45,-1.15,-0.85,-0.55,-0.25,0.05,0.35,0.65,0.95,1.25,1.6,2.8]],[-0.3,[-3.3,-1.75,-1.4,-1.1,-0.8,-0.5,-0.2,0.1,0.4,0.7,1.0,1.35,2.1]],[-0.45,[-1.4,-1.05,-0.75,-0.45,-0.15,0.15,0.45,0.75,1.2,1.8]],[-0.6,[-1.6,-1.2,-0.9,-0.6,-0.3,0.0,0.3,0.6,0.9,2.35]],[-0.8,[-3.1,-1.2,-0.85,-0.5,-0.2,0.15,0.5,1.2]],[-1.0,[-1.85,-0.85,-0.5,-0.2,0.1,0.45,0.85,1.7,3.1]],[-1.2,[-4.05,-2.9,-2.25,-1.4,-1.0,-0.65,-0.3,0.05,1.35,2.1]],[-1.45,[-1.5,-0.75,-0.45,-0.1,0.35,0.7,1.7]],[-1.7,[-1.1,-0.2,0.2,0.6,0.95,2.75]],[-1.9,[-1.25,-0.65,-0.35,0.55,2.0]],[-2.1,[-0.45,0.55]],[-2.25,[-3.1,1.15]],[-2.4,[-6.0]],[-2.55,[1.2]],[-2.6,[0.2]],[-2.75,[-2.65]],[-3.1,[-0.35]]];
const mrLV1 = [[2.55,[-5.3,-4.55,-4.1,-1.25]],[1.95,[-5.4,-4.6,-3.45,-3.2,-2.95,-2.7,-2.55,-2.0,-1.85]],[1.49,[-5.3,-4.9,-4.1,-3.85,-3.6,-3.35,-3.1,-2.85,-2.6,-1.95,-1.55,-0.8,-0.5,-0.25]],[1.14,[-5.3,-4.2,-3.0,-2.75,-2.5,-2.25,-2.0,-1.75,-1.5,-1.25,-1.0,-0.75,-0.4]],[0.82,[-4.8,-4.6,-4.3,-4.0,-3.7,-3.45,-3.2,-2.9,-2.6,-2.35,-2.1,-1.85,-1.6,-1.35,-1.1,-0.85,-0.6,-0.3,0.0,0.2,1.75]],[0.58,[-6.0,-4.25,-3.25,-3.0,-2.5,-2.25,-1.55,-1.3,-1.05,-0.8,-0.55,-0.3,0.1,0.5,0.75]],[0.43,[-3.4,-2.6,-2.3,-2.0,-1.75,-1.5,-1.25,-1.0,-0.75,-0.5,-0.25,0.1,0.4]],[0.25,[-2.7,-2.4,-2.1,-1.8,-1.5,-1.2,-0.9,-0.6,-0.3,0.0,0.4,0.8,1.1,1.4,1.75,2.1]],[0.07,[-2.7,-2.4,-2.1,-1.8,-1.5,-1.2,-0.9,-0.6,-0.4,0.0,0.3,0.6,0.9,1.2,1.5,1.8,2.1]],[-0.13,[-3.25,-2.6,-2.2,-1.9,-1.55,-1.25,-0.9,-0.6,-0.35,-0.1,0.2,0.5,0.8,1.1,1.3,3.65]],[-0.31,[-2.3,-2.0,-1.6,-1.2,-0.9,-0.6,-0.3,0.0,0.3,0.8,1.1,1.4,1.7,2.0,2.3,2.7]],[-0.48,[-1.4,-1.1,-0.8,-0.5,-0.25,0.4,0.7,1.0,1.3,1.6,1.9,2.2,3.25,5.05]],[-0.61,[-1.55,-1.2,-0.9,-0.65,0.4,0.7,1.0,1.3,1.6,1.9,2.2,2.5,4.35]],[-0.74,[0.0,0.3,0.6,0.9,1.2,1.5,1.8,2.1,2.45,4.45]],[-0.94,[0.15,0.45,0.75,1.05,1.4,1.8,2.4,2.8,3.2,3.5]],[-1.09,[0.8,1.1,1.4,1.7,2.45,2.75,3.25,4.3,5.35]],[-1.24,[2.2,2.5,2.75,3.25,3.65,4.05]],[-1.35,[1.1,1.45,2.1,3.1,3.7,5.5]],[-1.52,[0.7,1.5,3.1,3.7,4.3]],[-1.65,[2.75,3.7,5.0,5.2]],[-1.8,[0.5,6.6,6.7,8.5]],[-1.91,[4.6,5.2]],[-2.17,[0.25,1.9,4.2,5.25,7.05,8.5]],[-2.67,[4.55]],[-3.02,[8.9]]];
const mrLV2 = [[2.55,[-2.3,0.25,0.35]],[1.95,[-0.5,-0.35,-0.2,-0.05,0.1,0.75,1.35]],[1.49,[-3.55,-2.5,-2.3,-2.1,-1.4,-1.25,-0.85,-0.4,0.3,0.55,0.7,0.85,1.1,2.1]],[1.14,[-3.5,-1.85,-1.7,-0.45,-0.25,-0.05,0.15,0.35,0.55,0.75,0.95,1.2,1.5,3.15]],[0.82,[-1.25,-1.0,-0.7,-0.35,-0.2,0.2,0.45,0.65,0.85,1.2,1.5,1.7,2.2,3.25]],[0.55,[-1.95,-1.65,-1.4,-1.15,-0.9,-0.65,-0.4,-0.15,0.4,0.6,0.8,1.0,1.3,1.9,3.15,3.8]],[0.4,[-1.65,-1.25,-1.0,-0.75,-0.5,-0.25,0.0,0.55,0.8,1.1,1.95]],[0.2,[-2.5,-1.35,-1.1,-0.85,-0.6,-0.35,-0.1,0.2,0.45,0.7,1.6,1.9,2.2,2.5]],[0.02,[-3.55,-2.1,-1.65,-1.4,-1.15,-0.9,-0.65,-0.4,-0.2,0.15,0.4,0.7,1.7,2.0,2.7,2.8]],[-0.2,[-3.45,-2.3,-1.5,-1.25,-1.0,-0.75,-0.5,-0.25,0.0,0.25,0.5,0.75,1.0,1.55,2.35,3.1]],[-0.35,[-2.25,-1.4,-1.15,-0.9,-0.65,-0.4,-0.15,0.1,0.5,0.75,1.0,1.25,1.5,1.85]],[-0.55,[-3.1,-1.75,-1.5,-1.2,-0.95,-0.7,-0.45,-0.2,0.05,0.55,0.8,1.05,1.3,1.55,1.85]],[-0.75,[-2.85,-1.5,-1.25,-1.0,-0.75,-0.5,-0.2,0.2,0.45,0.7]],[-0.95,[-1.65,-1.0,-0.5,0.2,0.45,0.7,1.0,1.3,1.45,3.1]],[-1.15,[-4.05,-2.25,-1.8,-1.25,-0.85,-0.6,-0.45,-0.1,0.15,1.1]],[-1.3,[-1.65,-1.15,-0.7,-0.2,0.2,0.55,1.3,2.1]],[-1.45,[-1.1,-0.6,-0.45,-0.1,0.25,0.7,1.7]],[-1.65,[-1.8,-1.1,-0.65,0.4,0.95]],[-1.8,[-0.5,0.55]],[-2.0,[-0.1,1.1,2.0,2.75]],[-2.25,[-6.0,-3.05,-2.65,-0.35,0.2,0.55]],[-2.75,[-1.25]],[-3.1,[1.15]]];
const vrLV1 = [[2.35,[-5.3,-3.45,-3.3,-3.1,-2.75,-2.5,-1.5]],[1.77,[-5.4,-5.15,-4.9,-4.55,-4.0,-3.0,-2.5,-2.2,-2.0,-1.3,-1.1,-0.8]],[1.35,[-5.3,-5.05,-4.8,-4.55,-4.0,-3.5,-3.25,-3.0,-2.8,-2.3,-2.0,-1.95,-1.7,-1.4,-0.9,-0.7,0.0]],[0.98,[-6.0,-4.75,-4.2,-3.75,-3.5,-3.25,-3.0,-2.75,-2.1,-1.85,-1.6,-1.35,-1.1,-0.85,-0.6,-0.35,-0.1,0.6,1.7]],[0.7,[-4.6,-4.3,-3.25,-3.0,-2.75,-2.5,-2.25,-1.7,-1.45,-1.2,-0.95,-0.7,-0.45,-0.2,0.4,0.85]],[0.47,[-3.8,-3.25,-3.0,-2.5,-2.25,-2.0,-1.75,-1.5,-1.25,-1.0,-0.75,-0.45,0.1,0.5,1.1,1.2]],[0.27,[-3.75,-3.5,-3.25,-3.0,-2.75,-2.2,-1.95,-1.7,-1.45,-1.2,-0.95,-0.7,-0.45,0.1,0.8,1.1,1.9,3.65]],[0.08,[-2.6,-2.4,-1.95,-1.4,-1.15,-0.9,-0.65,-0.4,-0.15,0.1,0.35,0.6,0.85,1.1,1.35,1.6,1.95,3.1]],[-0.13,[-2.65,-2.25,-1.8,-1.55,-1.3,-1.05,-0.8,-0.55,-0.3,-0.05,0.2,0.45,0.7,0.95,1.2,1.45,1.7,1.95,2.35]],[-0.35,[-1.55,-1.3,-1.05,-0.8,-0.55,-0.3,0.65,0.9,1.15,1.45,1.7,4.45]],[-0.51,[-1.75,-1.5,-1.25,-1.0,-0.75,-0.5,-0.25,0.5,0.75,1.0,1.25,1.5,1.75,2.0,2.3,3.2]],[-0.67,[-1.55,-1.3,-1.05,-0.8,-0.55,-0.3,-0.05,0.2,0.95,1.3,1.6,1.95,2.45]],[-0.86,[-1.75,-1.5,-1.25,-1.0,-0.75,0.5,0.75,1.0,1.35,1.7,2.15,2.45,3.5,3.8,4.55]],[-1.06,[0.0,0.3,0.6,0.95,1.3,1.7,2.3,2.6,2.95,3.8,4.9,5.5]],[-1.2,[0.0,0.4,0.6,1.05,1.45,2.2,2.6,3.1]],[-1.36,[0.0,2.2,2.4,3.8,4.25]],[-1.51,[0.5,1.05,2.2,5.2]],[-1.67,[2.45,4.3,5.35,5.5,7.1]],[-1.88,[2.35,3.5,5.3,8.9]],[-2.02,[3.55,5.2]],[-2.13,[0.25]],[-2.22,[2.3,8.5]],[-2.37,[5.5]],[-2.48,[5.3]],[-2.65,[8.5]],[-3.0,[1.9]]];
const vrLV2 = [[2.35,[-2.3,-2.25,0.25,0.35,0.95,1.6]],[1.77,[-2.4,-2.2,-1.05,-0.95,-0.3,-0.1,0.15,0.4,0.8,0.85,1.35,2.05]],[1.35,[-3.5,-2.1,-1.75,-1.5,-1.3,-0.6,-0.45,0.2,0.45,0.7,0.95,1.4,1.85]],[0.98,[-2.0,-1.65,-1.35,-1.05,-0.8,-0.5,-0.2,0.1,0.4,0.7,1.0,1.3,1.6,1.9,2.25,2.5]],[0.7,[-1.8,-1.4,-1.1,-0.8,-0.5,-0.2,0.4,0.7,1.0,1.3,1.6,2.05,3.2]],[0.47,[-3.6,-1.75,-1.2,-0.9,-0.6,-0.3,0.0,0.55,0.85,1.2,1.5,1.9,3.05]],[0.27,[-3.5,-1.5,-1.2,-0.9,-0.6,-0.3,0.0,0.3,0.6,1.3,1.6,1.9,3.2]],[0.08,[-3.55,-3.45,-2.3,-1.8,-1.5,-1.2,-0.9,-0.6,-0.3,0.05,0.35,0.65,0.95,1.25,1.55,1.9,3.75]],[-0.13,[-1.75,-1.5,-1.2,-0.9,-0.6,-0.3,0.0,0.3,0.6,0.95,1.25,1.5,1.9,2.4,2.65,2.8]],[-0.35,[-2.55,-1.75,-1.45,-1.15,-0.85,-0.55,-0.25,0.1,0.4,0.7,1.0,1.3,1.6,1.9,2.65]],[-0.51,[-3.3,-1.75,-1.45,-1.1,-0.8,-0.5,-0.2,0.1,0.4,0.7,1.0,1.3,1.6,1.9]],[-0.67,[-2.1,-1.7,-1.5,-0.9,-0.6,-0.3,0.0,0.3,0.6,0.9,1.2]],[-0.86,[-3.1,-1.85,-1.4,-1.1,-0.8,-0.5,-0.2,0.35,0.7,1.2,1.45,2.35,3.1]],[-1.06,[-2.2,-1.75,-1.1,-0.85,-0.6,-0.35,-0.05,0.25,0.95,1.3,1.7,2.15,2.75]],[-1.2,[-4.05,-0.85,-0.6,-0.45,0.5,0.8,1.1]],[-1.36,[-2.9,-1.65,-1.5,-1.35,-0.7,-0.35,-0.05,0.55,0.7,1.75]],[-1.51,[-1.7,-1.0,-0.75,-0.6,0.05,0.85,2.0]],[-1.67,[-1.0,-0.05,0.05,0.6,0.8]],[-1.88,[-3.05,0.2,0.55,0.8,1.15]],[-2.02,[-0.1,0.95]],[-2.13,[-6.0]],[-2.22,[-0.2,1.1]],[-2.37,[-0.65]],[-2.48,[0.2]],[-2.65,[-2.65]],[-3.0,[-0.35]]];

// fitted lines [[x1,y1],[x2,y2]] and confidence bands [x, lower, upper]
const sfLV1Fit = [[-6.05,1.45],[8.85,-2.21]];
const sfLV1Band = [[-6.05,1.26,1.64],[-2.9,0.57,0.79],[0.3,-0.18,-0.06],[4.6,-1.32,-1.05],[8.85,-2.46,-1.96]];
const sfLV2Fit = [[-5.95,0.8],[4.0,-0.55]];
const sfLV2Band = [[-5.95,0.45,1.15],[-3.1,0.23,0.59],[-0.3,-0.03,0.09],[1.85,-0.39,-0.13],[4.0,-0.79,-0.31]];
const lfLV1Fit = [[-6.05,1.23],[8.85,-1.87]];
const lfLV1Band = [[-6.05,1.01,1.45],[-2.9,0.45,0.70],[0.3,-0.16,-0.02],[4.6,-1.16,-0.81],[8.85,-2.19,-1.55]];
const lfLV2Fit = [[-5.95,0.91],[4.0,-0.6]];
const lfLV2Band = [[-5.95,0.54,1.28],[-3.1,0.28,0.67],[-0.3,-0.02,0.12],[1.85,-0.42,-0.13],[4.0,-0.87,-0.33]];
const mmLV1Fit = [[-6.05,0.97],[8.85,-1.49]];
const mmLV1Band = [[-6.05,0.75,1.19],[-2.9,0.32,0.58],[0.3,-0.15,-0.01],[4.6,-0.96,-0.62],[8.85,-1.81,-1.17]];
const mmLV2Fit = [[-5.95,0.56],[4.0,-0.38]];
const mmLV2Band = [[-5.95,0.16,0.96],[-3.1,0.08,0.50],[-0.3,-0.04,0.10],[1.85,-0.32,-0.04],[4.0,-0.64,-0.12]];
const irLV1Fit = [[-6.0,1.91],[8.9,-2.9]];
const irLV1Band = [[-6,1.81,2.01],[-2.9,0.85,0.97],[0.3,-0.16,-0.08],[4.6,-1.61,-1.41],[8.9,-3.08,-2.72]];
const irLV2Fit = [[-6.0,-0.7],[3.9,0.33]];
const irLV2Band = [[-6,-0.97,-0.43],[-3.15,-0.54,-0.26],[-0.3,-0.16,-0.06],[1.8,0.01,0.21],[3.9,0.14,0.52]];
const mrLV1Fit = [[-6.0,1.92],[8.9,-2.9]];
const mrLV1Band = [[-6,1.80,2.04],[-2.9,0.85,0.99],[0.3,-0.16,-0.08],[4.6,-1.61,-1.41],[8.9,-3.08,-2.72]];
const mrLV2Fit = [[-6.0,-0.65],[4.0,0.34]];
const mrLV2Band = [[-6,-0.91,-0.39],[-3.15,-0.51,-0.23],[-0.3,-0.136,-0.036],[1.85,0.027,0.227],[4.0,0.16,0.52]];
const vrLV1Fit = [[-6.0,1.8],[8.9,-2.76]];
const vrLV1Band = [[-6,1.64,1.96],[-2.9,0.77,0.93],[0.3,-0.17,-0.09],[4.6,-1.54,-1.34],[8.9,-2.94,-2.58]];
const vrLV2Fit = [[-6.0,-0.57],[4.0,0.38]];
const vrLV2Band = [[-6,-0.84,-0.30],[-3.15,-0.44,-0.16],[-0.3,-0.08,0.02],[1.85,0.07,0.28],[4.0,0.2,0.56]];

// tick values
const lv1Ticks = [-6,-3,0,3,6,9];
const lv2TicksC = [-6,-4,-2,0,2,4];
const lv2TicksB = [-6,-3,0,3];
const scoreTicksC = [-2.5,0,2.5];
const eduTicks = [10,20,30];
const violinTicks = [-5,0,5,10];

// ================= BUILD =================
const SERIF = "'DejaVu Serif', serif";
const LSERIF = "'Liberation Serif', 'DejaVu Serif', serif";
const NARROW = "'Liberation Sans Narrow', 'Liberation Sans', Arial, sans-serif";
const SANS = "'Liberation Sans', Arial, sans-serif";
const BLUE = '#1f77b4';
const HEALTHY = '#F8766D', IMPAIRED = '#00BFC4';

const grids = [], xAxes = [], yAxes = [], series = [], graphics = [];
const pts = lv => lv.flatMap(r => r[1].map(x => [x, r[0]]));

function gridLineSeries(i, o) {
  return {
    type: 'custom', xAxisIndex: i, yAxisIndex: i, silent: true, z: 1, clip: true,
    data: [[o.xr[0], o.yr[0]]],
    renderItem: (params, api) => {
      const ch = [];
      const add = (a, b, w) => ch.push({type: 'line', shape: {x1: a[0], y1: a[1], x2: b[0], y2: b[1]}, style: {stroke: '#fff', lineWidth: w}});
      (o.yMinor || []).forEach(v => add(api.coord([o.xr[0], v]), api.coord([o.xr[1], v]), 1.1));
      (o.xMinor || []).forEach(v => add(api.coord([v, o.yr[0]]), api.coord([v, o.yr[1]]), 1.1));
      (o.yMajor || []).forEach(v => add(api.coord([o.xr[0], v]), api.coord([o.xr[1], v]), 2.3));
      (o.xMajor || []).forEach(v => add(api.coord([v, o.yr[0]]), api.coord([v, o.yr[1]]), 2.3));
      return {type: 'group', children: ch};
    }
  };
}

function ggPanel(o) {
  const i = grids.length;
  grids.push({left: o.left, top: o.top, width: o.width, height: o.height, show: true, backgroundColor: '#EBEBEB', borderWidth: 0});
  xAxes.push({gridIndex: i, type: 'value', position: 'bottom', min: o.xr[0], max: o.xr[1], axisLine: {show: false, onZero: false}, splitLine: {show: false},
    axisTick: {show: true, length: 9, lineStyle: {color: '#333', width: 2.4}, customValues: o.xt},
    axisLabel: {show: true, customValues: o.xt, color: '#4D4D4D', fontFamily: NARROW, fontSize: 21, margin: o.xm || 12, formatter: o.xfmt || (v => String(v))}});
  yAxes.push({gridIndex: i, type: 'value', position: 'left', min: o.yr[0], max: o.yr[1], axisLine: {show: false, onZero: false}, splitLine: {show: false},
    axisTick: {show: true, length: 8, lineStyle: {color: '#333', width: 2.4}, customValues: o.yt},
    axisLabel: {show: !!o.showY, customValues: o.yt, color: '#4D4D4D', fontFamily: NARROW, fontSize: 21, margin: 11, formatter: o.yfmt || (v => String(v))}});
  series.push(gridLineSeries(i, {xr: o.xr, yr: o.yr, xMajor: o.xt, yMajor: o.yt, xMinor: o.xMinor, yMinor: o.yMinor}));
  return i;
}

function addScatterFit(i, data, fit, band, size) {
  series.push({type: 'custom', xAxisIndex: i, yAxisIndex: i, silent: true, z: 2, clip: true, data: [[band[2][0], band[2][1]]],
    renderItem: (params, api) => {
      const up = band.map(b => api.coord([b[0], b[2]]));
      const lo = band.slice().reverse().map(b => api.coord([b[0], b[1]]));
      return {type: 'polygon', shape: {points: up.concat(lo), smooth: 0}, style: {fill: 'rgba(90,90,90,0.62)'}};
    }});
  series.push({type: 'scatter', xAxisIndex: i, yAxisIndex: i, data: data, symbolSize: size || 6.6, itemStyle: {color: '#000', opacity: 1}, silent: true, z: 3});
  series.push({type: 'line', xAxisIndex: i, yAxisIndex: i, data: fit, symbol: 'none', silent: true, z: 5, lineStyle: {color: '#000', width: 3.2}});
}

function txt(x, y, text, font, opt) {
  opt = opt || {};
  graphics.push({type: 'text', x: x, y: y, rotation: opt.rot || 0, silent: true, z: 50,
    style: {text: text, font: font, fill: opt.fill || '#000', textAlign: opt.align || 'center', textVerticalAlign: 'middle', align: opt.align || 'center', verticalAlign: 'middle'}});
}

// ---------- Panel A (matplotlib style) ----------
const mfmt = d => v => (v < 0 ? '\u2212' : '') + Math.abs(v).toFixed(d);
function mplPanel(o) {
  const i = grids.length;
  grids.push({left: o.left, top: o.top, width: o.width, height: o.height, show: true, backgroundColor: '#fff', borderColor: '#000', borderWidth: 1.6});
  xAxes.push({gridIndex: i, type: 'value', position: 'bottom', min: o.xr[0], max: o.xr[1], axisLine: {show: false, onZero: false}, splitLine: {show: false},
    axisTick: {show: true, length: 8, lineStyle: {color: '#000', width: 1.6}, customValues: o.xt},
    axisLabel: {show: true, customValues: o.xt, color: '#000', fontFamily: SERIF, fontSize: 18, margin: 18, formatter: o.xfmt}});
  yAxes.push({gridIndex: i, type: 'value', position: 'left', min: o.yr[0], max: o.yr[1], axisLine: {show: false, onZero: false}, splitLine: {show: false},
    axisTick: {show: true, length: 8, lineStyle: {color: '#000', width: 1.6}, customValues: o.yt},
    axisLabel: {show: !!o.showY, customValues: o.yt, color: '#000', fontFamily: SERIF, fontSize: 18, margin: 11, formatter: o.yfmt}});
  return i;
}
function histSeries(i, edges, counts) {
  const data = counts.map((c, k) => [edges[k], edges[k + 1], c]);
  series.push({type: 'custom', xAxisIndex: i, yAxisIndex: i, silent: true, z: 3, data: data, encode: {x: 2, y: [0, 1]},
    renderItem: (params, api) => {
      const c = api.value(2);
      if (!c) return null;
      const p1 = api.coord([0, api.value(1)]);
      const p2 = api.coord([c, api.value(0)]);
      return {type: 'rect', shape: {x: p1[0], y: p1[1], width: p2[0] - p1[0], height: p2[1] - p1[1]}, style: {fill: BLUE, stroke: BLUE, lineWidth: 0.6}};
    }});
}
function blueScatter(i, data) {
  series.push({type: 'scatter', xAxisIndex: i, yAxisIndex: i, data: data, symbolSize: 7, itemStyle: {color: BLUE}, silent: true, z: 3});
}

const yrA1 = [-6.82, 9.83], yrA2 = [-6.46, 4.29];
let g;
g = mplPanel({left: 117, top: 15, width: 239, height: 250, xr: [0, 57], yr: yrA1, xt: [0, 20, 40], yt: [-5, 0, 5], showY: true, xfmt: mfmt(0), yfmt: mfmt(0)});
histSeries(g, histLV1Edges, histLV1Counts);
g = mplPanel({left: 379, top: 15, width: 238, height: 250, xr: [7.66, 30.32], yr: yrA1, xt: [10, 20, 30], yt: [-5, 0, 5], xfmt: mfmt(0)});
blueScatter(g, sfBaseline);
g = mplPanel({left: 641, top: 15, width: 238, height: 250, xr: [-0.257, 0.199], yr: yrA1, xt: [-0.2, 0], yt: [-5, 0, 5], xfmt: mfmt(1)});
blueScatter(g, sfDecline);
g = mplPanel({left: 117, top: 385, width: 239, height: 248, xr: [0, 52.9], yr: yrA2, xt: [0, 20, 40], yt: [-6, -4, -2, 0, 2, 4], showY: true, xfmt: mfmt(0), yfmt: mfmt(0)});
histSeries(g, histLV2Edges, histLV2Counts);
g = mplPanel({left: 379, top: 385, width: 238, height: 248, xr: [10.77, 33.63], yr: yrA2, xt: [20, 30], yt: [-6, -4, -2, 0, 2, 4], xfmt: mfmt(0)});
blueScatter(g, vrBaseline);
g = mplPanel({left: 641, top: 385, width: 238, height: 248, xr: [-0.151, 0.0331], yr: yrA2, xt: [-0.15, -0.10, -0.05, 0], yt: [-6, -4, -2, 0, 2, 4], xfmt: mfmt(2)});
blueScatter(g, vrDecline);

const AF = "23px " + SERIF;
txt(236.5, 323, 'Number of', AF); txt(236.5, 350, 'Participants', AF);
txt(498, 323, 'Semantic Fluency', AF); txt(498, 350, 'Baseline', AF);
txt(760, 323, 'Semantic Fluency', AF); txt(760, 350, 'Decline', AF);
txt(236.5, 692, 'Number of', AF); txt(236.5, 718, 'Participants', AF);
txt(498, 692, 'Verbal Reasoning', AF); txt(498, 718, 'Baseline', AF);
txt(760, 692, 'Verbal Reasoning', AF); txt(760, 718, 'Decline', AF);
txt(39, 141, 'LV1', AF, {rot: Math.PI / 2}); txt(62, 141, 'Cognition Score', AF, {rot: Math.PI / 2});
txt(39, 510, 'LV2', AF, {rot: Math.PI / 2}); txt(62, 510, 'Cognition Score', AF, {rot: Math.PI / 2});
txt(22, 24, 'A', '40px ' + LSERIF);
txt(937, 21, 'B', '40px ' + LSERIF);
txt(21, 767, 'C', '40px ' + LSERIF);

// ---------- Panel B ----------
const lv1Minor = [-4.5, -1.5, 1.5, 4.5, 7.5];
g = ggPanel({left: 1037, top: 12, width: 240, height: 278, xr: [-6.75, 9.75], yr: [4.93, 32.76], xt: lv1Ticks, yt: eduTicks, xMinor: lv1Minor, yMinor: [5, 15, 25], showY: true, xm: 14});
addScatterFit(g, pts(eduLV1), eduLV1Fit, eduLV1Band);
g = ggPanel({left: 1295, top: 12, width: 259, height: 278, xr: [-6.5, 4.5], yr: [4.93, 32.76], xt: lv2TicksB, yt: eduTicks, xMinor: [-4.5, -1.5, 1.5, 4.5], yMinor: [5, 15, 25], xm: 14});
addScatterFit(g, pts(eduLV2), eduLV2Fit, eduLV2Band);
const XT = "27px " + NARROW, YT = "25px " + SANS;
txt(1157, 337, 'LV1', XT); txt(1425, 337, 'LV2', XT);
txt(988, 152, 'Education Years', "24px " + SANS, {rot: Math.PI / 2});

// violin panel
g = ggPanel({left: 1038, top: 357, width: 545, height: 263, xr: [-0.6, 1.6], yr: [-8.62, 12.55], xt: [0, 1], yt: violinTicks, xMinor: [], yMinor: [-7.5, -2.5, 2.5, 7.5, 12.5], showY: true, xfmt: v => (v === 0 ? 'LV1' : 'LV2')});
const vioProfiles = [vioLV1Healthy, vioLV1Impaired, vioLV2Healthy, vioLV2Impaired];
series.push({type: 'custom', xAxisIndex: g, yAxisIndex: g, silent: true, z: 3, clip: false,
  data: violinGroups.map((grp, k) => [grp === 'LV1' ? 0 : 1, 0]),
  renderItem: (params, api) => {
    const k = params.dataIndex;
    const cx = (violinGroups[k] === 'LV1' ? 0 : 1) + (violinStatus[k] === 'healthy' ? -0.25 : 0.25);
    const col = violinStatus[k] === 'healthy' ? HEALTHY : IMPAIRED;
    const prof = vioProfiles[k];
    const right = prof.map(p => api.coord([cx + p[1], p[0]]));
    const left = prof.slice().reverse().map(p => api.coord([cx - p[1], p[0]]));
    const ch = [];
    ch.push({type: 'polygon', shape: {points: right.concat(left), smooth: 0.35}, style: {fill: col, stroke: '#333', lineWidth: 2.6}});
    const s = boxStats[k], bw = 0.028;
    const w1 = api.coord([cx, s[0]]), w2 = api.coord([cx, s[4]]);
    ch.push({type: 'line', shape: {x1: w1[0], y1: w1[1], x2: w2[0], y2: w2[1]}, style: {stroke: '#333', lineWidth: 2.6}});
    const b1 = api.coord([cx - bw, s[3]]), b2 = api.coord([cx + bw, s[1]]);
    ch.push({type: 'rect', shape: {x: b1[0], y: b1[1], width: b2[0] - b1[0], height: b2[1] - b1[1]}, style: {fill: col, stroke: '#333', lineWidth: 2.6}});
    const m1 = api.coord([cx - bw, s[2]]), m2 = api.coord([cx + bw, s[2]]);
    ch.push({type: 'line', shape: {x1: m1[0], y1: m1[1], x2: m2[0], y2: m2[1]}, style: {stroke: '#333', lineWidth: 4.5}});
    boxOutliers[k].forEach(o => { const p = api.coord([cx, o]); ch.push({type: 'circle', shape: {cx: p[0], cy: p[1], r: 6}, style: {fill: '#333'}}); });
    return {type: 'group', children: ch};
  }});
txt(976, 486, 'Score', "24px " + SANS, {rot: Math.PI / 2});
// legend
txt(1033, 688, 'MOCA Status', "25px " + NARROW, {align: 'left'});
function legendKey(x0, col, label) {
  graphics.push({type: 'rect', silent: true, z: 50, shape: {x: x0, y: 660, width: 52.5, height: 53.3}, style: {fill: col, stroke: '#333', lineWidth: 2.5}});
  graphics.push({type: 'line', silent: true, z: 51, shape: {x1: x0 + 26.2, y1: 660, x2: x0 + 26.2, y2: 713.3}, style: {stroke: '#333', lineWidth: 2.5}});
  graphics.push({type: 'rect', silent: true, z: 52, shape: {x: x0 + 4, y: 672.7, width: 44.5, height: 28.3}, style: {fill: col, stroke: '#333', lineWidth: 2.5}});
  graphics.push({type: 'line', silent: true, z: 53, shape: {x1: x0 + 4, y1: 686.8, x2: x0 + 48.5, y2: 686.8}, style: {stroke: '#333', lineWidth: 3}});
  txt(x0 + 67, 688, label, "22px " + NARROW, {align: 'left'});
}
legendKey(1200, HEALTHY, 'healthy');
legendKey(1347, IMPAIRED, 'impaired');

// ---------- Panel C ----------
const fmt1 = v => v.toFixed(1);
const lv2MinorC = [-5, -3, -1, 1, 3];
const cPanels = [
  {col: 0, row: 0, d1: sfLV1, f1: sfLV1Fit, b1: sfLV1Band, d2: sfLV2, f2: sfLV2Fit, b2: sfLV2Band, name: 'Semantic Fluency'},
  {col: 0, row: 1, d1: lfLV1, f1: lfLV1Fit, b1: lfLV1Band, d2: lfLV2, f2: lfLV2Fit, b2: lfLV2Band, name: 'Lexical Fluency'},
  {col: 0, row: 2, d1: mmLV1, f1: mmLV1Fit, b1: mmLV1Band, d2: mmLV2, f2: mmLV2Fit, b2: mmLV2Band, name: 'Memory'},
  {col: 1, row: 0, d1: irLV1, f1: irLV1Fit, b1: irLV1Band, d2: irLV2, f2: irLV2Fit, b2: irLV2Band, name: 'Inductive Reasoning'},
  {col: 1, row: 1, d1: mrLV1, f1: mrLV1Fit, b1: mrLV1Band, d2: mrLV2, f2: mrLV2Fit, b2: mrLV2Band, name: 'Mathematical Reasoning'},
  {col: 1, row: 2, d1: vrLV1, f1: vrLV1Fit, b1: vrLV1Band, d2: vrLV2, f2: vrLV2Fit, b2: vrLV2Band, name: 'Verbal Reasoning'}
];
const colX = [{p1: 92, w1: 324, p2: 433, w2: 345, yt: 35}, {p1: 890, w1: 324, p2: 1233, w2: 344, yt: 830}];
const rowY = [
  [{top: 778, h: 280, yr: [-3.33, 3.29]}, {top: 1128, h: 271, yr: [-2.64, 3.08]}, {top: 1460, h: 279, yr: [-2.94, 3.25]}],
  [{top: 778, h: 280, yr: [-3.47, 3.31]}, {top: 1119, h: 280, yr: [-3.41, 2.83]}, {top: 1459, h: 280, yr: [-3.28, 2.62]}]
];
const titleY = [1100, 1444, 1785];
cPanels.forEach(p => {
  const cx = colX[p.col], ry = rowY[p.col][p.row];
  let i = ggPanel({left: cx.p1, top: ry.top, width: cx.w1, height: ry.h, xr: [-6.75, 9.75], yr: ry.yr, xt: lv1Ticks, yt: scoreTicksC, xMinor: lv1Minor, yMinor: [-1.25, 1.25], showY: true, yfmt: fmt1});
  addScatterFit(i, pts(p.d1), p.f1, p.b1);
  i = ggPanel({left: cx.p2, top: ry.top, width: cx.w2, height: ry.h, xr: [-6.5, 4.5], yr: ry.yr, xt: lv2TicksC, yt: scoreTicksC, xMinor: lv2MinorC, yMinor: [-1.25, 1.25]});
  addScatterFit(i, pts(p.d2), p.f2, p.b2);
  txt(cx.p1 + cx.w1 / 2, titleY[p.row], 'LV1', XT);
  txt(cx.p2 + cx.w2 / 2, titleY[p.row], 'LV2', XT);
  txt(cx.yt, ry.top + ry.h / 2, p.name, YT, {rot: Math.PI / 2});
});

const chart = echarts.init(document.getElementById('c'), null, {renderer: 'canvas'});
chart.setOption({
  backgroundColor: '#fff', animation: false,
  grid: grids, xAxis: xAxes, yAxis: yAxes, series: series, graphic: {elements: graphics}
});
</script></body></html>
